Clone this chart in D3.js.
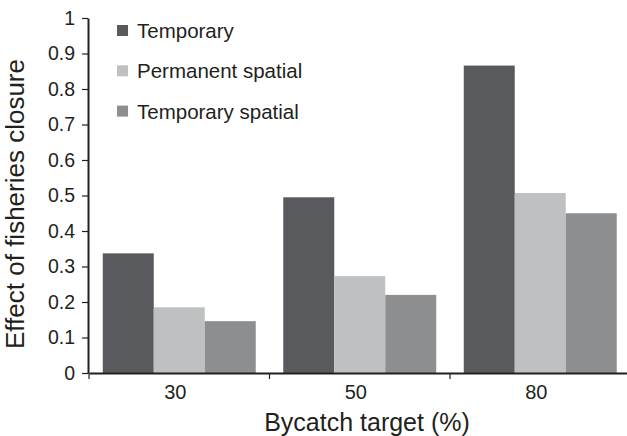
<!DOCTYPE html>
<html>
<head>
<meta charset="utf-8">
<script src="https://cdnjs.cloudflare.com/ajax/libs/d3/7.8.5/d3.min.js"></script>
<style>
  body { margin: 0; background: #fff; }
  svg text { font-family: "Liberation Sans", Arial, sans-serif; fill: #231f20; }
</style>
</head>
<body>
<div class="chart"></div>
<script>
// data
var targets = ["30", "50", "80"];
var seriesNames = ["Temporary", "Permanent spatial", "Temporary spatial"];
var temporary = [0.337, 0.495, 0.866];
var permanentSpatial = [0.185, 0.273, 0.507];
var temporarySpatial = [0.146, 0.22, 0.45];
var yTicks = [0, 0.1, 0.2, 0.3, 0.4, 0.5, 0.6, 0.7, 0.8, 0.9, 1];

var colors = ["#595a5e", "#bfc0c2", "#8d8e90"];
var values = [temporary, permanentSpatial, temporarySpatial];

var width = 627, height = 436;
var plotLeft = 89, plotBottom = 373, plotTop = 18;

var svg = d3.select(".chart").append("svg")
  .attr("width", width)
  .attr("height", height);

var x0 = d3.scaleBand()
  .domain(targets)
  .range([plotLeft, plotLeft + 3 * 180.5]);

var x1 = d3.scaleBand()
  .domain(seriesNames)
  .range([0, x0.bandwidth()])
  .paddingOuter(0.27);

var y = d3.scaleLinear()
  .domain([0, 1])
  .range([plotBottom, plotTop]);

// bars
var groups = svg.selectAll(".grp")
  .data(targets)
  .enter().append("g")
  .attr("class", "grp")
  .attr("transform", function(d){ return "translate(" + x0(d) + ",0)"; });

groups.selectAll("rect")
  .data(function(d, i){
    return seriesNames.map(function(s, j){ return {s: s, j: j, v: values[j][i]}; });
  })
  .enter().append("rect")
  .attr("x", function(d){ return x1(d.s); })
  .attr("width", x1.bandwidth())
  .attr("y", function(d){ return y(d.v); })
  .attr("height", function(d){ return plotBottom - y(d.v); })
  .attr("fill", function(d){ return colors[d.j]; });

// y axis
var yAxis = svg.append("g")
  .attr("transform", "translate(" + (plotLeft - 1) + ",0)")
  .call(d3.axisLeft(y).tickValues(yTicks).tickSize(6).tickSizeOuter(0)
    .tickFormat(function(d){ return d === 0 || d === 1 ? d3.format("d")(d) : d3.format(".1f")(d); }));
yAxis.select(".domain").attr("stroke", "#231f20").attr("stroke-width", 2);
yAxis.selectAll(".tick line").attr("stroke", "#231f20").attr("stroke-width", 1.2);
yAxis.selectAll(".tick text")
  .attr("x", -13)
  .style("font-size", "19.5px");

// x axis
var xAxis = svg.append("g")
  .attr("transform", "translate(0," + plotBottom + ")")
  .call(d3.axisBottom(x0).tickSize(0).tickSizeOuter(0).tickPadding(12));
xAxis.select(".domain").attr("stroke", "#231f20").attr("stroke-width", 2);
xAxis.selectAll(".tick text")
  .attr("dx", -4)
  .style("font-size", "20px");

// boundary ticks between categories
svg.append("g").selectAll("line")
  .data(targets)
  .enter().append("line")
  .attr("x1", function(d){ return x0(d); })
  .attr("x2", function(d){ return x0(d); })
  .attr("y1", plotBottom)
  .attr("y2", plotBottom + 6)
  .attr("stroke", "#231f20")
  .attr("stroke-width", 1.2);

// axis titles
svg.append("text")
  .attr("x", 367)
  .attr("y", 431)
  .attr("text-anchor", "middle")
  .style("font-size", "25px")
  .text("Bycatch target (%)");

svg.append("text")
  .attr("transform", "translate(24,204) rotate(-90)")
  .attr("text-anchor", "middle")
  .style("font-size", "26px")
  .text("Effect of fisheries closure");

// legend
var legend = svg.append("g").selectAll("g")
  .data(seriesNames)
  .enter().append("g")
  .attr("transform", function(d, i){ return "translate(117," + (25 + i * 40.3) + ")"; });

legend.append("rect")
  .attr("width", 11)
  .attr("height", 11)
  .attr("fill", function(d, i){ return colors[i]; });

legend.append("text")
  .attr("x", 20)
  .attr("y", 13)
  .style("font-size", "20.5px")
  .text(function(d){ return d; });
</script>
</body>
</html>
